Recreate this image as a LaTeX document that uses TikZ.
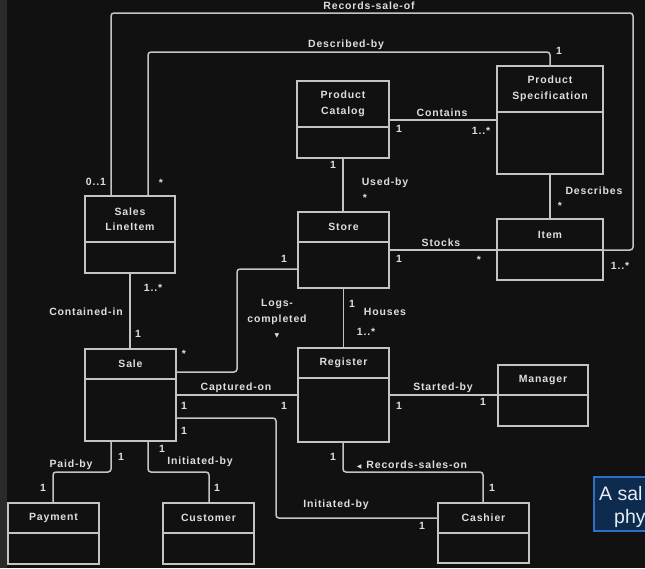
\documentclass[tikz,border=0pt]{standalone}
\usepackage{fontspec}
\setmainfont{Liberation Sans}
\newfontfamily\lblfont{Liberation Sans}[LetterSpace=8]
\newfontfamily\symfont{DejaVu Sans}
\newfontfamily\tipfont{Liberation Sans}
\usetikzlibrary{calc}
\definecolor{bg}{HTML}{111111}
\definecolor{strip}{HTML}{2A2A2A}
\definecolor{ln}{HTML}{C4C4C4}
\definecolor{tx}{HTML}{DEDEDE}
\definecolor{tipfill}{HTML}{0D2B4E}
\definecolor{tipdraw}{HTML}{2D70C4}
\definecolor{tiptext}{HTML}{E6ECF4}
\tikzset{
  cls/.style={draw=ln, line width=1.5pt, inner sep=0pt, outer sep=0pt, rectangle},
  lbl/.style={text=tx, font=\lblfont\bfseries\fontsize{10.5}{15.5}\selectfont, inner sep=0pt, align=center},
  conn/.style={draw=ln, line width=1.5pt, rounded corners=3pt},
  sepline/.style={draw=ln, line width=1.5pt},
}
\newcommand\umlclass[7]{%
  \node[cls, minimum width={(#4-#2)*1pt}, minimum height={(#5-#3)*1pt}] (#1) at ({(#2+#4)/2},{(#3+#5)/2}) {};
  \draw[sepline] (#1.west |- 0,#6) -- (#1.east |- 0,#6);
  \node[lbl] (#1-t) at ({(#2+#4)/2},{(#3+#6)/2}) {#7};
}
\newcommand\trisym[1]{{\symfont\fontsize{6}{6}\selectfont #1}}
\begin{document}
\begin{tikzpicture}[x=1pt,y=-1pt]
\useasboundingbox (0,0) rectangle (645,568);
\fill[bg] (0,0) rectangle (645,568);
\fill[strip] (0,0) rectangle (7,568);

% classes
\umlclass{pc}{297}{81}{389}{158}{127}{Product\\Catalog}
\umlclass{ps}{497}{66}{603}{174}{112}{Product\\Specification}
\umlclass{sli}{85}{196}{175}{273}{242}{Sales\\LineItem}
\umlclass{store}{298}{212}{389}{288}{242}{Store}
\umlclass{item}{497}{219}{603}{280}{250}{Item}
\umlclass{sale}{85}{349}{176}{441}{379}{Sale}
\umlclass{reg}{298}{348}{389}{442}{378}{Register}
\umlclass{mgr}{498}{365}{588}{426}{395}{Manager}
\umlclass{pay}{8}{503}{99}{564}{533}{Payment}
\umlclass{cust}{163}{503}{254}{564}{533}{Customer}
\umlclass{cash}{438}{503}{529}{563}{533}{Cashier}

% connectors
\draw[conn] (sli.north -| 111,0) |- (633,13) |- (item.east |- 0,250);
\draw[conn] (sli.north -| 148,0) |- (550,52) -- (ps.north -| 550,0);
\draw[conn] (pc.east |- 0,120) -- (ps.west |- 0,120);
\draw[conn] (pc.south) -- (pc.south |- store.north);
\draw[conn] (ps.south) -- (ps.south |- item.north);
\draw[conn] (store.east |- 0,250) -- (item.west |- 0,250);
\draw[conn] (sli.south) -- (sli.south |- sale.north);
\draw[conn] (sale.east |- 0,372) -| (237,269) -- (store.west |- 0,269);
\draw[conn] (store.south) -- (store.south |- reg.north);
\draw[conn] (sale.east |- 0,395) -- (reg.west |- 0,395);
\draw[conn] (sale.east |- 0,418) -| (276,518) -- (cash.west |- 0,518);
\draw[conn] (reg.east |- 0,395) -- (mgr.west |- 0,395);
\draw[conn] (reg.south -| 343,0) |- (483,472) -- (cash.north -| 483,0);
\draw[conn] (sale.south -| 111,0) |- (53,472) -- (pay.north -| 53,0);
\draw[conn] (sale.south -| 148,0) |- (209,472) -- (cust.north -| 209,0);

% association labels
\node[lbl] (l1) at (369,6) {Records-sale-of};
\node[lbl] (l2) at (346,45) {Described-by};
\node[lbl] (l3) at (442,113) {Contains};
\node[lbl] (l4) at (385,183) {Used-by};
\node[lbl] (l5) at (594,191) {Describes};
\node[lbl] (l6) at (441,243) {Stocks};
\node[lbl] (l7) at (86,312) {Contained-in};
\node[lbl] (l8) at (277,319) {Logs-\\completed\\\trisym{▼}};
\node[lbl] (l9) at (385,312) {Houses};
\node[lbl] (l10) at (236,388) {Captured-on};
\node[lbl] (l11) at (443,388) {Started-by};
\node[lbl] (l12) at (412,465) {\trisym{◀}\hspace{5pt}Records-sales-on};
\node[lbl] (l13) at (71,465) {Paid-by};
\node[lbl] (l14) at (200,462) {Initiated-by};
\node[lbl] (l15) at (336,505) {Initiated-by};

% multiplicities
\node[lbl] (m1) at (559,51) {1};
\node[lbl] (m2) at (96,182) {0..1};
\node[lbl] (m3) at (161,183) {*};
\node[lbl] (m4) at (399,129) {1};
\node[lbl] (m5) at (481,131) {1..*};
\node[lbl] (m6) at (333,165) {1};
\node[lbl] (m7) at (365,198) {*};
\node[lbl] (m8) at (560,206) {*};
\node[lbl] (m9) at (399,259) {1};
\node[lbl] (m10) at (479,260) {*};
\node[lbl] (m11) at (620,266) {1..*};
\node[lbl] (m12) at (284,259) {1};
\node[lbl] (m13) at (153,288) {1..*};
\node[lbl] (m14) at (138,334) {1};
\node[lbl] (m15) at (184,354) {*};
\node[lbl] (m16) at (352,304) {1};
\node[lbl] (m17) at (366,332) {1..*};
\node[lbl] (m18) at (184,406) {1};
\node[lbl] (m19) at (284,406) {1};
\node[lbl] (m20) at (184,431) {1};
\node[lbl] (m21) at (399,406) {1};
\node[lbl] (m22) at (483,402) {1};
\node[lbl] (m23) at (333,457) {1};
\node[lbl] (m24) at (492,488) {1};
\node[lbl] (m25) at (121,457) {1};
\node[lbl] (m26) at (43,488) {1};
\node[lbl] (m27) at (162,449) {1};
\node[lbl] (m28) at (217,488) {1};
\node[lbl] (m29) at (422,526) {1};

% clipped tooltip
\draw[fill=tipfill, draw=tipdraw, line width=1.2pt] (594,477) rectangle (660,531);
\node[anchor=base west, inner sep=0pt, text=tiptext, font=\tipfont\fontsize{19.5}{19.5}\selectfont] (tip1) at (599,500) {A sal};
\node[anchor=base west, inner sep=0pt, text=tiptext, font=\tipfont\fontsize{19.5}{19.5}\selectfont] (tip2) at (614,523) {phy};
\end{tikzpicture}
\end{document}
